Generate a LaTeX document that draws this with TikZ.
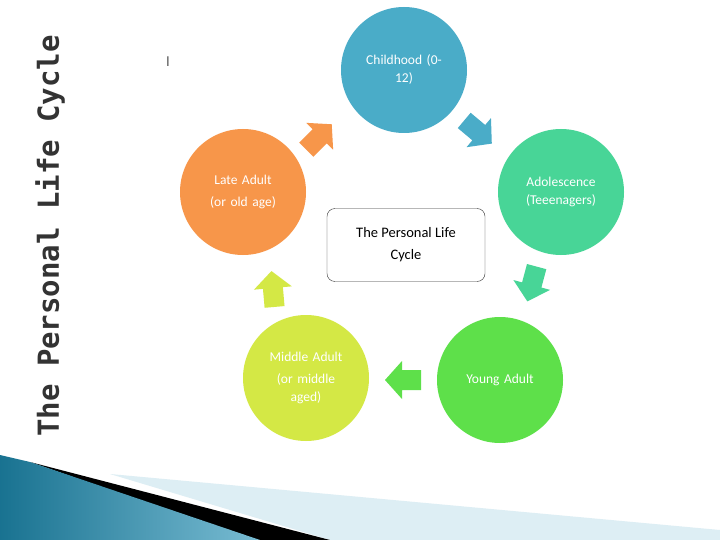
\documentclass[tikz,border=0pt]{standalone}
\usepackage{fontspec}
\setmainfont{Carlito}
\newfontfamily\titlefont{DejaVu Sans Mono}
\definecolor{cA}{HTML}{4AACC8}
\definecolor{cB}{HTML}{48D597}
\definecolor{cC}{HTML}{5EE04A}
\definecolor{cD}{HTML}{D4E845}
\definecolor{cE}{HTML}{F7964A}
\definecolor{deco}{HTML}{1F8FB5}
\tikzset{x=1pt,y=-1pt,
 stage/.style={circle,minimum size=126pt,inner sep=0pt,text=white,font=\fontsize{13.5}{18}\selectfont,align=center,text width=100pt},
 blkarrow/.pic={\fill (-18,-10) -- (1,-10) -- (1,-19) -- (18,0) -- (1,19) -- (1,10) -- (-18,10) -- cycle;}}
\begin{document}
\begin{tikzpicture}
\useasboundingbox (0,0) rectangle (720,540);
\fill[white] (0,0) rectangle (720,540);
% decoration
\fill[deco!15] (110,474) -- (720,530) -- (720,540) -- (330,540) -- cycle;
\fill[black] (30,462) -- (330,540) -- (255,540) -- cycle;
\shade[left color=deco!80!black,right color=deco!60!white] (0,455) -- (30,462) -- (260,540) -- (0,540) -- cycle;
% title
\node[rotate=90,font=\titlefont\bfseries\fontsize{29}{32}\selectfont,text=black!80] (title) at (50,236) {The Personal Life Cycle};
\node[font=\fontsize{14}{14}\selectfont,text=black!70] (mark) at (168,62) {l};
% circles
\node[stage,fill=cA] (c1) at (404,70) {Childhood (0-\\12)};
\node[stage,fill=cB] (c2) at (561,192) {Adolescence\\(Teeenagers)};
\node[stage,fill=cC] (c3) at (500,380) {Young Adult};
\node[stage,fill=cD] (c4) at (306,378) {Middle Adult\\[4pt](or middle\\aged)};
\node[stage,fill=cE] (c5) at (243,192) {Late Adult\\[4pt](or old age)};
\node[draw=black!80,rounded corners=8pt,minimum width=158pt,minimum height=73pt,align=center,font=\fontsize{14.5}{22}\selectfont,text=black] (ctr) at (406,245) {The Personal Life\\Cycle};
% arrows
\pic[fill=cA,rotate=-40] (a1) at (478,132) {blkarrow};
\pic[fill=cB,rotate=-105] (a2) at (532,284) {blkarrow};
\pic[fill=cC,rotate=180] (a3) at (403,380) {blkarrow};
\pic[fill=cD,rotate=95] (a4) at (273,289) {blkarrow};
\pic[fill=cE,rotate=45] (a5) at (319,137) {blkarrow};
\end{tikzpicture}
\end{document}
